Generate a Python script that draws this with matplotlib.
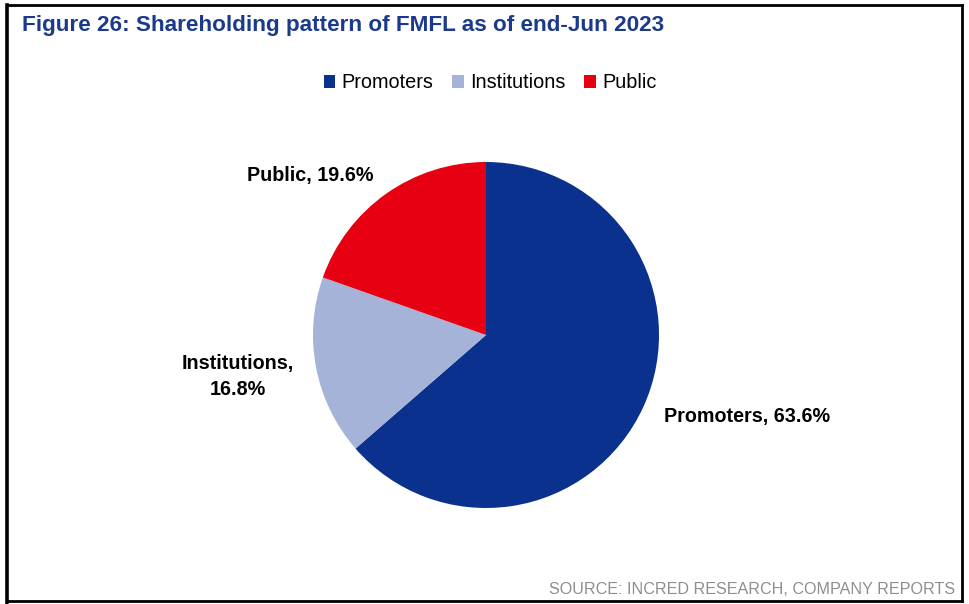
import numpy as np
import matplotlib.pyplot as plt
from matplotlib.lines import Line2D
from matplotlib.patches import Patch

plt.rcParams['font.family'] = ['Liberation Sans', 'DejaVu Sans']

categories = ['Promoters', 'Institutions', 'Public']
shares = [63.6, 16.8, 19.6]
colors = ['#0A318E', '#A6B3D8', '#E60012']
label_texts = ['Promoters, 63.6%', 'Institutions,\n16.8%', 'Public, 19.6%']

title = 'Figure 26: Shareholding pattern of FMFL as of end-Jun 2023'
source = 'SOURCE: INCRED RESEARCH, COMPANY REPORTS'

W, H = 969, 604
fig = plt.figure(figsize=(W / 100, H / 100), dpi=100)

# frame around the exhibit
fig.add_artist(Line2D([7 / W, 7 / W], [0, 1 - 5 / H], color='black', lw=2.6,
                      transform=fig.transFigure, solid_capstyle='projecting'))
fig.add_artist(Line2D([7 / W, 962 / W], [1 - 5 / H, 1 - 5 / H], color='black', lw=2.0,
                      transform=fig.transFigure))
fig.add_artist(Line2D([962 / W, 962 / W], [1 - 5 / H, 1 - 601 / H], color='black', lw=2.0,
                      transform=fig.transFigure))
fig.add_artist(Line2D([7 / W, 962 / W], [1 - 601 / H, 1 - 601 / H], color='black', lw=2.0,
                      transform=fig.transFigure))

fig.text(22 / W, 1 - 26 / H, title, fontsize=16.2, fontweight='bold',
         color='#1B3A8C', ha='left', va='center')

fig.text(955 / W, 1 - 589 / H, source, fontsize=11.6, color='#8E8E8E',
         ha='right', va='center')

# pie: centre (486, 335) px, radius 173 px
cx, cy, r = 486, 335, 173
ax = fig.add_axes([(cx - r) / W, 1 - (cy + r) / H, 2 * r / W, 2 * r / H])
wedges, _ = ax.pie(shares, colors=colors, startangle=90, counterclock=False,
                   wedgeprops=dict(linewidth=0))
ax.set_xlim(-1, 1)
ax.set_ylim(-1, 1)
ax.set_clip_on(False)

for w, txt in zip(wedges, label_texts):
    mid = np.deg2rad((w.theta1 + w.theta2) / 2)
    x, y = 1.13 * np.cos(mid), 1.13 * np.sin(mid)
    ha = 'left' if x > 0 else 'right'
    if '\n' in txt:
        y -= 0.03
    ax.text(x, y, txt, ha=ha, va='center', fontsize=14.2, fontweight='bold',
            multialignment='center', color='black', linespacing=1.45)

handles = [Patch(facecolor=c, edgecolor='none') for c in colors]
fig.legend(handles, categories, loc='center', bbox_to_anchor=(490 / W, 1 - 83 / H),
           ncol=3, frameon=False, fontsize=14.3, handlelength=0.6, handleheight=0.6,
           handletextpad=0.3, columnspacing=0.95)

fig.savefig('out.png', dpi=100)
